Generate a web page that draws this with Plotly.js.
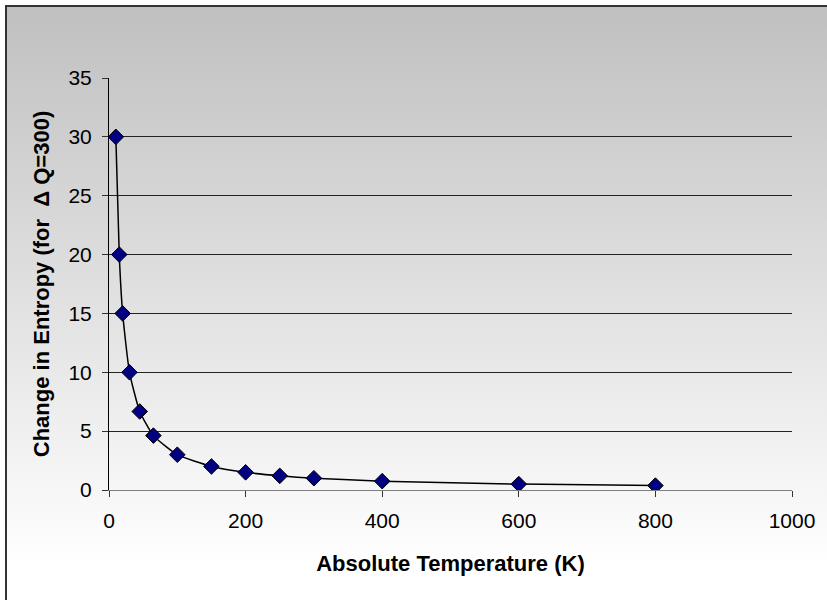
<!DOCTYPE html>
<html>
<head>
<meta charset="utf-8">
<script src="https://cdn.plot.ly/plotly-3.0.1.min.js"></script>
<style>
  html, body { margin: 0; padding: 0; width: 827px; height: 600px; overflow: hidden; background: #fff; }
  #bg { position: absolute; left: 5px; top: 5px; width: 900px; height: 700px;
        border-left: 2px solid #333; border-top: 2px solid #333;
        background: linear-gradient(to bottom, #c0c0c0 0px, #e4e4e4 320px, #ffffff 560px); }
  #chart { position: absolute; left: 0; top: 0; width: 827px; height: 600px; }
</style>
</head>
<body>
<div id="bg"></div>
<div id="chart"></div>
<script>
// Absolute temperature (K)
const temperatureK = [10, 15, 20, 30, 45, 65, 100, 150, 200, 250, 300, 400, 600, 800];
// Change in entropy for ΔQ = 300
const entropyChange = [30, 20, 15, 10, 6.67, 4.62, 3, 2, 1.5, 1.2, 1, 0.75, 0.5, 0.375];
const xTicks = [0, 200, 400, 600, 800, 1000];
const yTicks = [0, 5, 10, 15, 20, 25, 30, 35];

const trace = {
  x: temperatureK,
  y: entropyChange,
  type: 'scatter',
  mode: 'lines+markers',
  line: { color: '#000000', width: 1.5, shape: 'spline', smoothing: 0.5 },
  marker: { symbol: 'diamond', size: 12, color: '#000080', line: { color: '#000000', width: 1 } },
  hoverinfo: 'x+y',
  showlegend: false
};

const tickFont = { family: 'Liberation Sans, Arial, sans-serif', size: 21, color: '#000' };
const titleFont = { family: 'Liberation Sans, Arial, sans-serif', size: 22, color: '#000', weight: 'bold' };

const layout = {
  width: 827, height: 600,
  margin: { l: 109, r: 35, t: 78, b: 110 },
  paper_bgcolor: 'rgba(0,0,0,0)',
  plot_bgcolor: 'rgba(0,0,0,0)',
  xaxis: {
    range: [0, 1000], tickvals: xTicks, ticktext: xTicks.map(String),
    showgrid: false, zeroline: false,
    showline: true, linecolor: '#808080', linewidth: 1,
    ticks: 'outside', ticklen: 6, tickcolor: '#333', tickwidth: 1,
    tickfont: tickFont, ticklabelstandoff: 6,
    title: { text: 'Absolute Temperature (K)', font: titleFont, standoff: 24 },
    automargin: false
  },
  yaxis: {
    range: [0, 35], tickvals: yTicks, ticktext: yTicks.map(String),
    showgrid: true, gridcolor: '#222', gridwidth: 1, zeroline: false,
    showline: true, linecolor: '#000', linewidth: 1,
    ticks: 'outside', ticklen: 6, tickcolor: '#333', tickwidth: 1,
    tickfont: tickFont, ticklabelstandoff: 6,
    title: { text: 'Change in Entropy (for  \u0394 Q=300)', font: titleFont, standoff: 12 },
    automargin: false
  }
};

Plotly.newPlot('chart', [trace], layout, { displayModeBar: false, staticPlot: true });
</script>
</body>
</html>
